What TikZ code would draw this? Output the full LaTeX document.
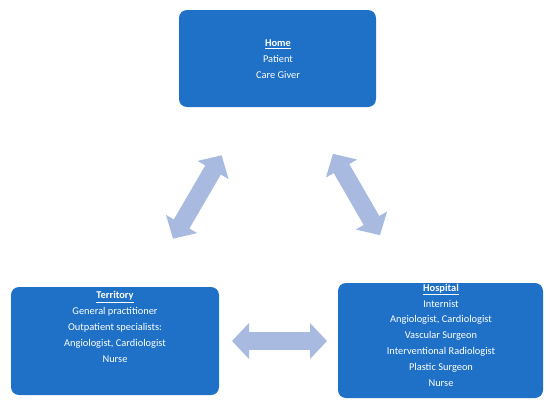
\documentclass[tikz,border=0pt]{standalone}
\usepackage{fontspec}
\setmainfont{Carlito}
\usetikzlibrary{arrows.meta}
\definecolor{boxblue}{RGB}{31,112,199}
\definecolor{arrowblue}{RGB}{168,186,223}
\tikzset{
  boxnode/.style={draw=none, fill=boxblue, rounded corners=8pt, inner sep=0pt},
  boxtext/.style={text=white, align=center, inner sep=0pt, anchor=base,
    font=\fontsize{10.4}{15.8}\selectfont},
  dblarrow/.style={draw=arrowblue, line width=18pt,
    {Triangle[length=17pt,width=35pt]}-{Triangle[length=17pt,width=35pt]}}
}
\begin{document}
\begin{tikzpicture}[x=1pt,y=-1pt]
\useasboundingbox (0,0) rectangle (550,405);
% boxes
\node[boxnode, minimum width=197pt, minimum height=97pt] (home) at (277.5,58.5) {};
\node[boxnode, minimum width=208pt, minimum height=108pt] (terr) at (115,341) {};
\node[boxnode, minimum width=205pt, minimum height=115pt] (hosp) at (440.5,340.5) {};
% texts (anchor = baseline of last line)
\node[boxtext] (hometext) at (278,78) {\underline{\textbf{Home}}\\Patient\\Care Giver};
\node[boxtext] (terrtext) at (115,362) {\underline{\textbf{Territory}}\\General practitioner\\Outpatient specialists:\\Angiologist, Cardiologist\\Nurse};
\node[boxtext] (hosptext) at (441,386) {\underline{\textbf{Hospital}}\\Internist\\Angiologist, Cardiologist\\Vascular Surgeon\\Interventional Radiologist\\Plastic Surgeon\\Nurse};
% arrow end points
\coordinate (la) at (173,238.7);
\coordinate (lb) at (221.6,155.3);
\coordinate (ra) at (333,153.8);
\coordinate (rb) at (380,235.2);
\coordinate (ha) at (232,341);
\coordinate (hb) at (327,341);
\draw[dblarrow] (la) -- (lb);
\draw[dblarrow] (ra) -- (rb);
\draw[dblarrow] (ha) -- (hb);
\end{tikzpicture}
\end{document}
